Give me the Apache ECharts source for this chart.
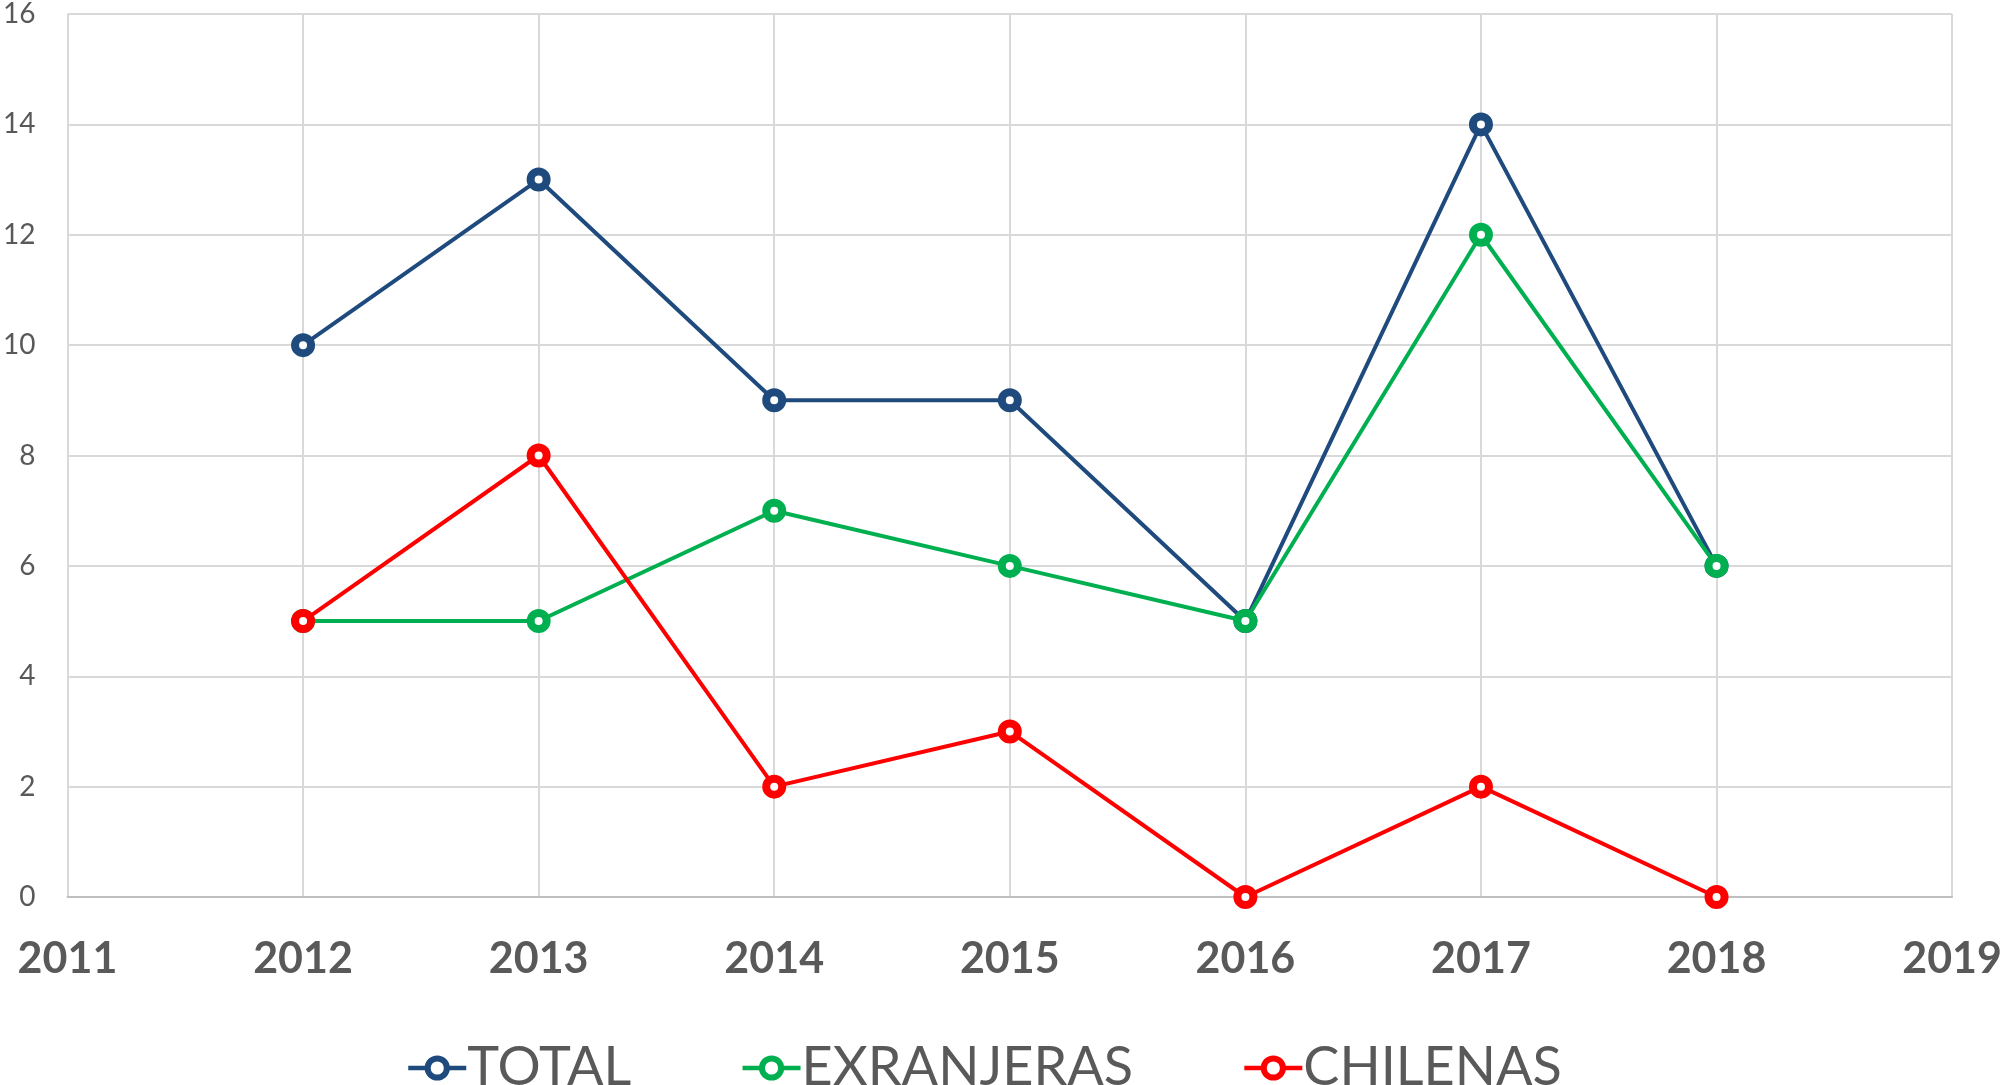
<!DOCTYPE html>
<html>
<head>
<meta charset="utf-8">
<script src="https://cdn.jsdelivr.net/npm/echarts@6/dist/echarts.min.js"></script>
<style>
html,body{margin:0;padding:0;background:#fff;}
#c{width:2005px;height:1085px;}
</style>
</head>
<body>
<div id="c"></div>
<script>
const years = [2012, 2013, 2014, 2015, 2016, 2017, 2018];
const total = [10, 13, 9, 9, 5, 14, 6];
const extranjeras = [5, 5, 7, 6, 5, 12, 6];
const chilenas = [5, 8, 2, 3, 0, 2, 0];
const seriesNames = ['TOTAL', 'EXRANJERAS', 'CHILENAS'];
const seriesColors = ['#1F4A7E', '#00B050', '#FF0000'];
const seriesValues = [total, extranjeras, chilenas];

const chart = echarts.init(document.getElementById('c'));
const FONT = 'Lato, "Open Sans", sans-serif';

const series = seriesNames.map((name, i) => ({
  name: name,
  type: 'line',
  data: years.map((y, j) => [y, seriesValues[i][j]]),
  symbol: 'circle',
  symbolSize: 16,
  lineStyle: { color: seriesColors[i], width: 4 },
  itemStyle: { color: '#ffffff', borderColor: seriesColors[i], borderWidth: 8 },
  z: 3 + i,
  animation: false
}));

chart.setOption({
  backgroundColor: '#ffffff',
  animation: false,
  grid: { left: 67, right: 46, top: 14, bottom: 188, containLabel: false },
  xAxis: {
    type: 'value', min: 2011, max: 2019, interval: 1,
    axisLine: { show: true, lineStyle: { color: '#BFBFBF', width: 2 } },
    axisTick: { show: false },
    splitLine: { show: true, lineStyle: { color: '#D9D9D9', width: 2 } },
    axisLabel: { color: '#595959', fontFamily: FONT, fontWeight: 'bold', fontSize: 43, margin: 41,
      formatter: v => String(v) }
  },
  yAxis: {
    type: 'value', min: 0, max: 16, interval: 2,
    axisLine: { show: false },
    axisTick: { show: false },
    splitLine: { show: true, lineStyle: { color: '#D9D9D9', width: 2 } },
    axisLabel: { color: '#595959', fontFamily: FONT, fontSize: 28, margin: 32 }
  },
  legend: {
    data: seriesNames,
    left: 401, top: 1036,
    itemWidth: 58, itemHeight: 24,
    itemGap: 109,
    itemStyle: { borderWidth: 6 },
    lineStyle: { width: 4.5 },
    textStyle: { color: '#595959', fontFamily: FONT, fontSize: 54, padding: [0, 0, 0, -4] }
  },
  series: series
});
</script>
</body>
</html>
